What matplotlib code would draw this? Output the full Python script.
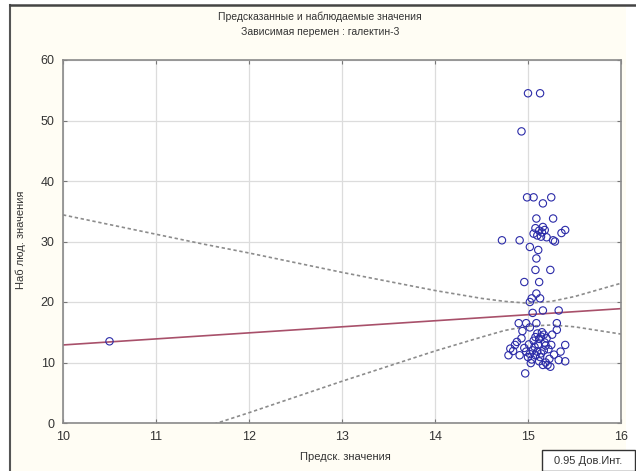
import matplotlib
matplotlib.use("Agg")
import matplotlib.pyplot as plt
from matplotlib.lines import Line2D
from matplotlib.patches import Rectangle

plt.rcParams['font.family'] = ['Liberation Sans', 'DejaVu Sans']

title_lines = ["Предсказанные и наблюдаемые значения", "Зависимая перемен : галектин-3"]
x_label = "Предск. значения"
y_label = "Наб люд. значения"
legend_text = "0.95 Дов.Инт."

x_ticks = [10, 11, 12, 13, 14, 15, 16]
y_ticks = [0, 10, 20, 30, 40, 50, 60]

pred = [10.50,
        15.00, 15.13, 14.93,
        14.99, 15.06, 15.16, 15.25,
        15.09, 15.27,
        15.08, 15.12, 15.15, 15.10, 15.14, 15.18, 15.06, 15.16, 15.20,
        15.40, 15.36, 14.72, 14.91, 15.27, 15.29,
        15.02, 15.11, 15.09, 15.08, 15.24, 14.96, 15.12, 15.09, 15.04, 15.13, 15.02,
        15.05, 15.16, 15.33,
        14.90, 14.98, 15.09, 15.31, 15.31, 15.02,
        15.10, 15.14, 15.17, 15.12, 15.08, 15.20, 15.15, 15.06, 15.18, 15.11,
        14.93, 15.40, 15.25, 14.81, 14.86,
        14.98, 15.02, 15.05, 15.00, 15.08, 15.04, 15.10, 15.12, 14.96, 15.07, 15.14, 15.01,
        14.79, 14.91, 15.13, 15.23, 15.33, 15.40, 15.16, 15.21, 15.19, 15.28, 14.97,
        14.88, 14.94, 15.22, 15.26, 15.17, 15.35, 14.84, 15.03, 15.19, 15.24]
obs = [13.5,
       54.5, 54.5, 48.2,
       37.3, 37.3, 36.3, 37.3,
       33.8, 33.8,
       32.2, 31.8, 31.5, 31.0, 30.8, 31.9, 31.3, 32.4, 30.7,
       31.9, 31.4, 30.2, 30.2, 30.2, 30.0,
       29.1, 28.6, 27.2, 25.3, 25.3, 23.3, 23.3, 21.4, 20.6, 20.6, 20.0,
       18.2, 18.6, 18.6,
       16.5, 16.5, 16.5, 16.5, 15.4, 15.8,
       14.8, 14.3, 14.6, 13.9, 14.2, 14.0, 15.0, 13.6, 13.3, 13.0,
       14.0, 12.9, 12.9, 12.3, 12.9,
       11.8, 11.4, 12.0, 10.9, 11.2, 10.5, 11.8, 10.2, 12.4, 12.6, 11.5, 13.0,
       11.2, 11.2, 10.9, 10.6, 10.4, 10.2, 9.6, 9.6, 10.0, 11.3, 8.2,
       13.4, 15.2, 12.2, 14.6, 12.0, 11.8, 11.9, 9.9, 12.8, 9.3]

fit_x = [10, 16]
fit_y = [12.9, 18.9]

ci_x = [10, 11, 11.5, 12, 12.5, 13, 13.5, 14, 14.5, 14.75, 15, 15.25, 15.5, 16]
ci_upper = [34.4, 31.2, 29.6, 28.1, 26.5, 24.9, 23.4, 21.9, 20.6, 20.1, 19.8, 20.1, 20.9, 23.1]
ci_lower = [-8.6, -3.4, -0.8, 1.7, 4.3, 6.9, 9.4, 11.9, 14.2, 15.3, 16.0, 16.2, 15.9, 14.7]

W, H = 636, 471
fig = plt.figure(figsize=(W / 100, H / 100), dpi=100)
fig.patch.set_facecolor('white')

# cream panel with frame
fig.add_artist(Rectangle((10 / W, 0), (626 - 10) / W, 1 - 5 / H, transform=fig.transFigure,
                         facecolor='#fffdf4', edgecolor='none', zorder=0))
fig.add_artist(Line2D([10 / W, 10 / W], [0, 1 - 5 / H], transform=fig.transFigure,
                      color='#555555', lw=1.5))
fig.add_artist(Line2D([10 / W, 1], [1 - 5 / H, 1 - 5 / H], transform=fig.transFigure,
                      color='#444444', lw=1.8))

ax = fig.add_axes([63 / W, 1 - 423 / H, (621 - 63) / W, (423 - 60) / H])
ax.set_facecolor('white')
ax.set_xlim(10, 16)
ax.set_ylim(0, 60)
ax.set_xticks(x_ticks)
ax.set_yticks(y_ticks)
ax.grid(True, color='#dcdcdc', lw=0.9)
ax.set_axisbelow(True)
for s in ax.spines.values():
    s.set_color('#8a8a8a')
    s.set_linewidth(1.2)
ax.tick_params(direction='in', length=3, color='#777777', labelsize=9,
               labelcolor='#333333', top=True, right=True, pad=6)

ax.plot(ci_x, ci_upper, color='#8c8c8c', lw=1.2, ls=(0, (2, 1.6)))
ax.plot(ci_x, ci_lower, color='#8c8c8c', lw=1.2, ls=(0, (2, 1.6)))
ax.plot(fit_x, fit_y, color='#a8506a', lw=1.2)
ax.scatter(pred, obs, s=28, facecolors='none', edgecolors='#2b2ba8', linewidths=0.8, zorder=3)

fig.text(320 / W, 1 - 17 / H, title_lines[0], ha='center', va='center', fontsize=7.5, color='#333333')
fig.text(320 / W, 1 - 32 / H, title_lines[1], ha='center', va='center', fontsize=7.5, color='#333333')
fig.text(345 / W, 1 - 457 / H, x_label, ha='center', va='center', fontsize=8, color='#333333')
fig.text(21 / W, 1 - 240 / H, y_label, ha='center', va='center', rotation=90, fontsize=8, color='#333333')

fig.add_artist(Rectangle((542 / W, 0), (635 - 542) / W, (471 - 450) / H, transform=fig.transFigure,
                         facecolor='white', edgecolor='#333333', lw=1.0, zorder=5))
fig.text(588 / W, 1 - 461 / H, legend_text, ha='center', va='center', fontsize=8, color='#333333', zorder=6)

fig.savefig('out.png', dpi=100, facecolor=fig.get_facecolor())
